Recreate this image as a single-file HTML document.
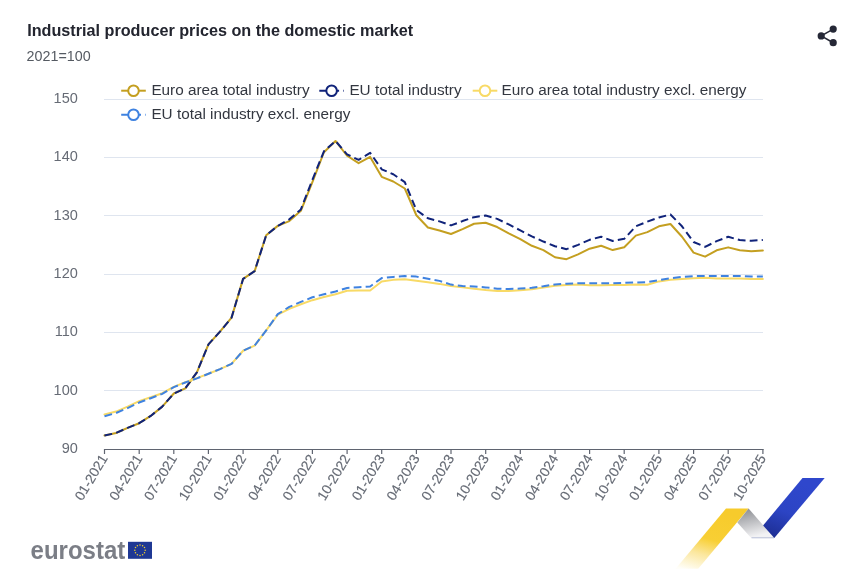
<!DOCTYPE html>
<html><head><meta charset="utf-8"><style>
html,body{margin:0;padding:0;background:#fff;}
svg{display:block;font-family:"Liberation Sans",sans-serif;will-change:transform;}
</style></head><body>
<svg width="851" height="583" viewBox="0 0 851 583">
<defs>
<linearGradient id="gy" x1="0.1" y1="1" x2="0.45" y2="0"><stop offset="0" stop-color="#fffef8"/><stop offset="0.3" stop-color="#fbe79e"/><stop offset="0.55" stop-color="#f8cf34"/><stop offset="1" stop-color="#f7cb2c"/></linearGradient>
<linearGradient id="gg" x1="0" y1="0" x2="0.3" y2="1"><stop offset="0" stop-color="#85878c"/><stop offset="1" stop-color="#f2f2f4"/></linearGradient>
<linearGradient id="gb" x1="0" y1="1" x2="0.4" y2="0"><stop offset="0" stop-color="#1b2b8c"/><stop offset="0.5" stop-color="#2c44c4"/><stop offset="1" stop-color="#2f47cc"/></linearGradient>
</defs>
<text x="27.2" y="36" font-size="16.2" font-weight="bold" fill="#23252f">Industrial producer prices on the domestic market</text>
<text x="26.6" y="61" font-size="14.3" fill="#555a62">2021=100</text>
<g fill="#252836" stroke="#252836">
<line x1="821.2" y1="35.9" x2="833.2" y2="29.1" stroke-width="1.6"/>
<line x1="821.2" y1="35.9" x2="833.2" y2="42.7" stroke-width="1.6"/>
<circle cx="833.2" cy="29.1" r="3.6" stroke="none"/><circle cx="821.2" cy="35.9" r="3.6" stroke="none"/><circle cx="833.2" cy="42.7" r="3.6" stroke="none"/>
</g>
<line x1="104" x2="763" y1="390.5" y2="390.5" stroke="#dfe5ef" stroke-width="1"/><line x1="104" x2="763" y1="332.5" y2="332.5" stroke="#dfe5ef" stroke-width="1"/><line x1="104" x2="763" y1="274.5" y2="274.5" stroke="#dfe5ef" stroke-width="1"/><line x1="104" x2="763" y1="215.5" y2="215.5" stroke="#dfe5ef" stroke-width="1"/><line x1="104" x2="763" y1="157.5" y2="157.5" stroke="#dfe5ef" stroke-width="1"/><line x1="104" x2="763" y1="99.5" y2="99.5" stroke="#dfe5ef" stroke-width="1"/>
<g font-size="14.5" fill="#666b75"><text x="77.8" y="453" text-anchor="end">90</text><text x="77.8" y="395" text-anchor="end">100</text><text x="77.8" y="336" text-anchor="end">110</text><text x="77.8" y="278" text-anchor="end">120</text><text x="77.8" y="220" text-anchor="end">130</text><text x="77.8" y="161" text-anchor="end">140</text><text x="77.8" y="103" text-anchor="end">150</text></g>
<line x1="104" x2="763.5" y1="449.5" y2="449.5" stroke="#5f6470" stroke-width="1.2"/>
<line x1="104.5" x2="104.5" y1="449" y2="454" stroke="#5f6470" stroke-width="1.2"/><line x1="139.2" x2="139.2" y1="449" y2="454" stroke="#5f6470" stroke-width="1.2"/><line x1="173.8" x2="173.8" y1="449" y2="454" stroke="#5f6470" stroke-width="1.2"/><line x1="208.4" x2="208.4" y1="449" y2="454" stroke="#5f6470" stroke-width="1.2"/><line x1="243.1" x2="243.1" y1="449" y2="454" stroke="#5f6470" stroke-width="1.2"/><line x1="277.8" x2="277.8" y1="449" y2="454" stroke="#5f6470" stroke-width="1.2"/><line x1="312.4" x2="312.4" y1="449" y2="454" stroke="#5f6470" stroke-width="1.2"/><line x1="347.1" x2="347.1" y1="449" y2="454" stroke="#5f6470" stroke-width="1.2"/><line x1="381.7" x2="381.7" y1="449" y2="454" stroke="#5f6470" stroke-width="1.2"/><line x1="416.4" x2="416.4" y1="449" y2="454" stroke="#5f6470" stroke-width="1.2"/><line x1="451.0" x2="451.0" y1="449" y2="454" stroke="#5f6470" stroke-width="1.2"/><line x1="485.7" x2="485.7" y1="449" y2="454" stroke="#5f6470" stroke-width="1.2"/><line x1="520.3" x2="520.3" y1="449" y2="454" stroke="#5f6470" stroke-width="1.2"/><line x1="555.0" x2="555.0" y1="449" y2="454" stroke="#5f6470" stroke-width="1.2"/><line x1="589.6" x2="589.6" y1="449" y2="454" stroke="#5f6470" stroke-width="1.2"/><line x1="624.2" x2="624.2" y1="449" y2="454" stroke="#5f6470" stroke-width="1.2"/><line x1="658.9" x2="658.9" y1="449" y2="454" stroke="#5f6470" stroke-width="1.2"/><line x1="693.6" x2="693.6" y1="449" y2="454" stroke="#5f6470" stroke-width="1.2"/><line x1="728.2" x2="728.2" y1="449" y2="454" stroke="#5f6470" stroke-width="1.2"/><line x1="762.9" x2="762.9" y1="449" y2="454" stroke="#5f6470" stroke-width="1.2"/>
<g font-size="13.8" fill="#666b75" stroke="#666b75" stroke-width="0.15"><text transform="translate(104.8 456) rotate(-59)" text-anchor="end" x="0" y="4">01-2021</text><text transform="translate(139.5 456) rotate(-59)" text-anchor="end" x="0" y="4">04-2021</text><text transform="translate(174.1 456) rotate(-59)" text-anchor="end" x="0" y="4">07-2021</text><text transform="translate(208.8 456) rotate(-59)" text-anchor="end" x="0" y="4">10-2021</text><text transform="translate(243.4 456) rotate(-59)" text-anchor="end" x="0" y="4">01-2022</text><text transform="translate(278.1 456) rotate(-59)" text-anchor="end" x="0" y="4">04-2022</text><text transform="translate(312.7 456) rotate(-59)" text-anchor="end" x="0" y="4">07-2022</text><text transform="translate(347.4 456) rotate(-59)" text-anchor="end" x="0" y="4">10-2022</text><text transform="translate(382.0 456) rotate(-59)" text-anchor="end" x="0" y="4">01-2023</text><text transform="translate(416.7 456) rotate(-59)" text-anchor="end" x="0" y="4">04-2023</text><text transform="translate(451.3 456) rotate(-59)" text-anchor="end" x="0" y="4">07-2023</text><text transform="translate(486.0 456) rotate(-59)" text-anchor="end" x="0" y="4">10-2023</text><text transform="translate(520.6 456) rotate(-59)" text-anchor="end" x="0" y="4">01-2024</text><text transform="translate(555.2 456) rotate(-59)" text-anchor="end" x="0" y="4">04-2024</text><text transform="translate(589.9 456) rotate(-59)" text-anchor="end" x="0" y="4">07-2024</text><text transform="translate(624.5 456) rotate(-59)" text-anchor="end" x="0" y="4">10-2024</text><text transform="translate(659.2 456) rotate(-59)" text-anchor="end" x="0" y="4">01-2025</text><text transform="translate(693.9 456) rotate(-59)" text-anchor="end" x="0" y="4">04-2025</text><text transform="translate(728.5 456) rotate(-59)" text-anchor="end" x="0" y="4">07-2025</text><text transform="translate(763.1 456) rotate(-59)" text-anchor="end" x="0" y="4">10-2025</text></g>
<g fill="none" stroke-width="2" stroke-linejoin="round">
<path d="M104.50 435.59 L116.05 432.97 L127.60 427.85 L139.15 423.20 L150.70 415.93 L162.25 406.62 L173.80 393.53 L185.35 388.30 L196.90 372.30 L208.45 344.38 L220.00 331.59 L231.55 317.62 L243.10 278.89 L254.65 271.09 L266.20 235.20 L277.75 225.90 L289.30 221.07 L300.85 210.77 L312.40 182.10 L323.95 152.26 L335.50 140.97 L347.05 155.75 L358.60 163.13 L370.15 156.91 L381.70 176.86 L393.25 181.51 L404.80 188.50 L416.35 215.25 L427.90 227.47 L439.45 230.55 L451.00 234.04 L462.55 229.15 L474.10 223.74 L485.65 222.81 L497.20 227.06 L508.75 233.28 L520.30 239.10 L531.85 245.79 L543.40 250.09 L554.95 257.25 L566.50 259.17 L578.05 254.40 L589.60 248.70 L601.15 245.79 L612.70 250.09 L624.25 247.24 L635.80 235.61 L647.35 232.12 L658.90 226.30 L670.45 223.98 L682.00 236.77 L693.55 252.65 L705.10 256.67 L716.65 250.33 L728.20 247.36 L739.75 250.33 L751.30 251.37 L762.85 250.56" stroke="#c49f20" stroke-linecap="round"/>
<path d="M104.50 435.59 L116.05 432.97 L127.60 427.85 L139.15 423.20 L150.70 415.93 L162.25 406.62 L173.80 393.53 L185.35 388.30 L196.90 372.30 L208.45 344.38 L220.00 331.59 L231.55 317.62 L243.10 278.89 L254.65 271.09 L266.20 235.20 L277.75 225.90 L289.30 219.32 L300.85 209.44 L312.40 179.77 L323.95 151.27 L335.50 140.97 L347.05 154.35 L358.60 159.82 L370.15 152.84 L381.70 169.30 L393.25 174.24 L404.80 182.10 L416.35 210.02 L427.90 218.28 L439.45 221.36 L451.00 225.43 L462.55 221.07 L474.10 217.17 L485.65 215.54 L497.20 218.86 L508.75 224.44 L520.30 230.38 L531.85 236.42 L543.40 241.54 L554.95 246.25 L566.50 249.16 L578.05 244.92 L589.60 239.80 L601.15 236.72 L612.70 241.02 L624.25 238.81 L635.80 226.30 L647.35 221.65 L658.90 217.46 L670.45 214.50 L682.00 226.30 L693.55 242.01 L705.10 246.84 L716.65 241.14 L728.20 236.77 L739.75 240.03 L751.30 240.73 L762.85 240.03" stroke="#10237a" stroke-dasharray="7.8,4.2"/>
<path d="M104.50 414.47 L116.05 411.56 L127.60 406.62 L139.15 401.09 L150.70 397.31 L162.25 393.24 L173.80 386.84 L185.35 382.19 L196.90 378.12 L208.45 373.76 L220.00 369.10 L231.55 363.87 L243.10 350.78 L254.65 345.54 L266.20 330.42 L277.75 314.72 L289.30 308.90 L300.85 304.25 L312.40 300.18 L323.95 297.03 L335.50 294.24 L347.05 290.75 L358.60 290.46 L370.15 290.46 L381.70 281.56 L393.25 279.87 L404.80 279.24 L416.35 280.69 L427.90 282.26 L439.45 283.89 L451.00 285.98 L462.55 287.38 L474.10 288.66 L485.65 290.05 L497.20 291.10 L508.75 291.10 L520.30 290.29 L531.85 289.30 L543.40 287.49 L554.95 285.69 L566.50 284.88 L578.05 284.41 L589.60 285.23 L601.15 285.23 L612.70 284.88 L624.25 284.88 L635.80 284.47 L647.35 284.70 L658.90 281.39 L670.45 279.70 L682.00 278.89 L693.55 278.36 L705.10 277.78 L716.65 278.60 L728.20 278.60 L739.75 278.60 L751.30 278.89 L762.85 278.89" stroke="#f8da66" stroke-linecap="round"/>
<path d="M104.50 416.22 L116.05 413.02 L127.60 408.07 L139.15 402.55 L150.70 398.19 L162.25 393.82 L173.80 387.13 L185.35 382.48 L196.90 378.41 L208.45 373.76 L220.00 369.10 L231.55 363.87 L243.10 350.78 L254.65 345.54 L266.20 330.42 L277.75 314.14 L289.30 306.86 L300.85 301.92 L312.40 297.27 L323.95 294.24 L335.50 291.45 L347.05 287.96 L358.60 287.15 L370.15 286.45 L381.70 278.07 L393.25 276.91 L404.80 276.04 L416.35 276.62 L427.90 278.77 L439.45 280.86 L451.00 284.59 L462.55 285.98 L474.10 286.56 L485.65 287.38 L497.20 288.66 L508.75 289.07 L520.30 288.54 L531.85 287.79 L543.40 286.27 L554.95 284.41 L566.50 283.66 L578.05 283.19 L589.60 283.19 L601.15 283.19 L612.70 283.19 L624.25 282.90 L635.80 282.43 L647.35 282.14 L658.90 280.11 L670.45 278.36 L682.00 276.91 L693.55 276.09 L705.10 276.09 L716.65 276.09 L728.20 276.09 L739.75 276.09 L751.30 276.44 L762.85 276.44" stroke="#3f82e0" stroke-dasharray="7.8,4.2"/>
</g>
<g font-size="15.3" fill="#333740">
<line x1="121.2" x2="145.8" y1="90.7" y2="90.7" stroke="#c49f20" stroke-width="2"/>
<circle cx="133.5" cy="90.7" r="5.3" fill="#fff" stroke="#c49f20" stroke-width="2"/>
<text x="151.4" y="95">Euro area total industry</text>
<line x1="319.3" x2="343.9" y1="90.7" y2="90.7" stroke="#10237a" stroke-width="2" stroke-dasharray="7.8,4.2"/>
<circle cx="331.6" cy="90.7" r="5.3" fill="#fff" stroke="#10237a" stroke-width="2"/>
<text x="349.4" y="95">EU total industry</text>
<line x1="472.7" x2="497.3" y1="90.7" y2="90.7" stroke="#f8da66" stroke-width="2"/>
<circle cx="485" cy="90.7" r="5.3" fill="#fff" stroke="#f8da66" stroke-width="2"/>
<text x="501.6" y="95">Euro area total industry excl. energy</text>
<line x1="121.2" x2="145.8" y1="114.7" y2="114.7" stroke="#3f82e0" stroke-width="2" stroke-dasharray="7.8,4.2"/>
<circle cx="133.5" cy="114.7" r="5.3" fill="#fff" stroke="#3f82e0" stroke-width="2"/>
<text x="151.4" y="119">EU total industry excl. energy</text>
</g>
<text transform="translate(30.6 558.6) scale(0.93 1)" font-size="25.8" font-weight="bold" fill="#7b7e86">eurostat</text>
<rect x="128" y="541.8" width="24" height="17" fill="#1f3894"/>
<g fill="#f2cf2c"><circle cx="140.00" cy="545.00" r="0.75"/><circle cx="142.60" cy="545.70" r="0.75"/><circle cx="144.50" cy="547.60" r="0.75"/><circle cx="145.20" cy="550.20" r="0.75"/><circle cx="144.50" cy="552.80" r="0.75"/><circle cx="142.60" cy="554.70" r="0.75"/><circle cx="140.00" cy="555.40" r="0.75"/><circle cx="137.40" cy="554.70" r="0.75"/><circle cx="135.50" cy="552.80" r="0.75"/><circle cx="134.80" cy="550.20" r="0.75"/><circle cx="135.50" cy="547.60" r="0.75"/><circle cx="137.40" cy="545.70" r="0.75"/></g>
<polygon points="675.6,568.7 698.2,568.7 748.6,508.5 726,508.5" fill="url(#gy)"/>
<polygon points="748.6,508.5 774.3,538 751.2,538 737.3,522.6" fill="url(#gg)"/><line x1="751.5" y1="537.8" x2="774" y2="537.8" stroke="#a9b3cf" stroke-width="0.8"/>
<polygon points="774.3,538 763.1,525.5 802.5,477.9 824.7,477.9" fill="url(#gb)"/>
</svg>
</body></html>
